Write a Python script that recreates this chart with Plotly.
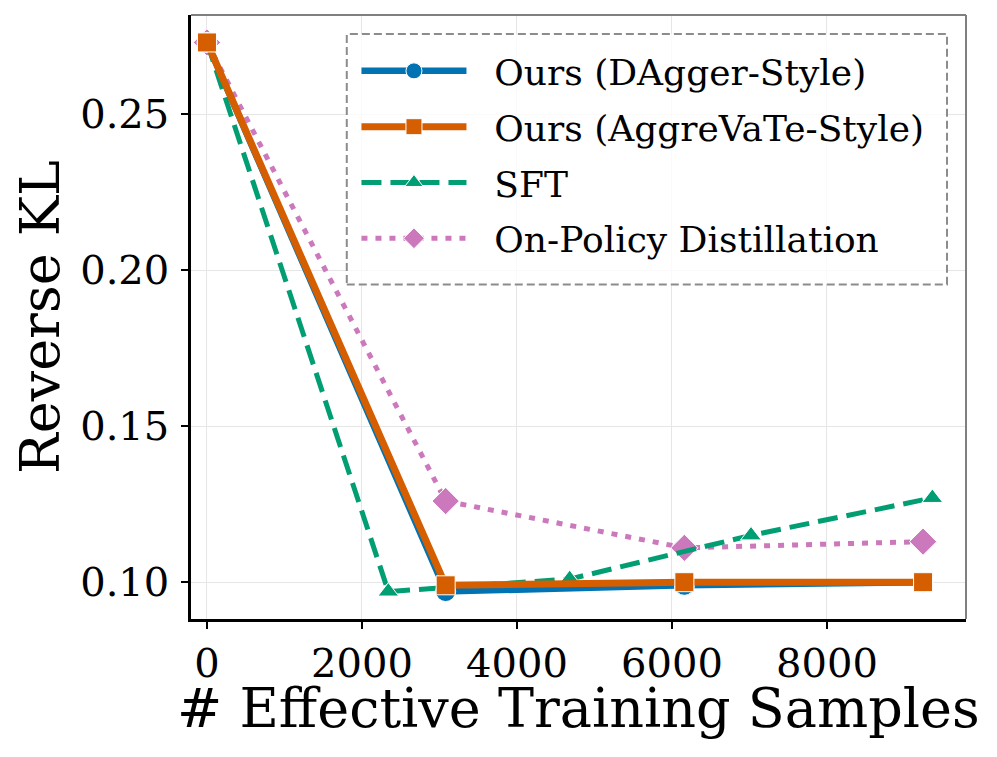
import plotly.graph_objects as go

# values
ours_x = [0, 3080, 6160, 9240]
dagger_y = [0.273, 0.097, 0.099, 0.100]
aggrevate_y = [0.273, 0.099, 0.100, 0.100]
sft_x = [0, 2340, 4680, 7020, 9360]
sft_y = [0.273, 0.097, 0.101, 0.115, 0.127]
opd_y = [0.273, 0.126, 0.111, 0.113]

x_ticks = [0, 2000, 4000, 6000, 8000]
y_ticks = [0.10, 0.15, 0.20, 0.25]

FONT = "DejaVu Serif"
BLUE = "#0173b2"
ORANGE = "#d55e00"
GREEN = "#029e73"
PINK = "#cc78bc"
PAD = "\u00a0\u00a0"  # small gap between legend symbol and label

fig = go.Figure()

# drawing order: pink, green, blue, orange (legend order set by legendrank)
fig.add_trace(go.Scatter(
    x=ours_x, y=opd_y, name=PAD + "On-Policy Distillation", mode="lines+markers",
    line=dict(color=PINK, width=5, dash="6px,8px"),
    marker=dict(symbol="diamond", size=21, color=PINK, line=dict(color="white", width=1)),
    legendrank=4, legendgroup="d",
))
fig.add_trace(go.Scatter(
    x=sft_x, y=sft_y, name=PAD + "SFT", mode="lines+markers",
    line=dict(color=GREEN, width=5, dash="20px,9px"),
    marker=dict(symbol="triangle-up", size=18, color=GREEN, line=dict(color="white", width=1)),
    legendrank=3, legendgroup="c",
))
fig.add_trace(go.Scatter(
    x=ours_x, y=dagger_y, name=PAD + "Ours (DAgger-Style)", mode="lines+markers",
    line=dict(color=BLUE, width=6.5),
    marker=dict(symbol="circle", size=20, color=BLUE, line=dict(color="white", width=1)),
    legendrank=1, legendgroup="a",
))
fig.add_trace(go.Scatter(
    x=ours_x, y=aggrevate_y, name=PAD + "Ours (AggreVaTe-Style)", mode="lines+markers",
    line=dict(color=ORANGE, width=7),
    marker=dict(symbol="square", size=19, color=ORANGE, line=dict(color="white", width=1)),
    legendrank=2, legendgroup="b",
))

axis_common = dict(
    showgrid=True, gridcolor="#e6e6e6", gridwidth=1,
    showline=True, linecolor="black", linewidth=2.5,
    ticks="outside", ticklen=7, tickwidth=2, tickcolor="black",
    tickfont=dict(family=FONT, size=40, color="black"),
    zeroline=False, automargin=False,
)

fig.update_xaxes(range=[-206, 9794], tickvals=x_ticks, ticklabelstandoff=0, **axis_common)
fig.update_yaxes(
    range=[0.0882, 0.2818], tickvals=y_ticks, tickformat=".2f", ticklabelstandoff=4,
    title=dict(text="Reverse KL", font=dict(family=FONT, size=54, color="black"), standoff=4),
    **axis_common,
)

# x title as an annotation so it can sit closer to the tick labels
fig.add_annotation(
    text="# Effective Training Samples", xref="paper", yref="paper",
    x=0.5, y=-0.092, xanchor="center", yanchor="top", showarrow=False,
    font=dict(family=FONT, size=54, color="black"),
)

# grey top/right spines + dashed legend frame
fig.add_shape(type="line", xref="paper", yref="paper", x0=0, x1=1, y0=1, y1=1,
              line=dict(color="#808080", width=2))
fig.add_shape(type="line", xref="paper", yref="paper", x0=1, x1=1, y0=0, y1=1,
              line=dict(color="#808080", width=2))
fig.add_shape(type="rect", xref="paper", yref="paper", x0=0.201, x1=0.9755, y0=0.5537, y1=0.9686,
              line=dict(color="#8c8c8c", width=2, dash="8px,4px"), fillcolor="rgba(255,255,255,0.8)",
              layer="above")

# the page body adds an 8px offset, so margins are shifted to compensate
fig.update_layout(
    width=997, height=757,
    margin=dict(l=183, r=39, t=7, b=146),
    plot_bgcolor="white", paper_bgcolor="white",
    font=dict(family=FONT, color="black"),
    showlegend=True,
    legend=dict(
        x=0.2135, y=0.957, xanchor="left", yanchor="top",
        bgcolor="rgba(0,0,0,0)", borderwidth=0,
        font=dict(family=FONT, size=36, color="black"),
        itemwidth=105, tracegroupgap=6, traceorder="grouped",
    ),
)

fig.write_html("out.html")
